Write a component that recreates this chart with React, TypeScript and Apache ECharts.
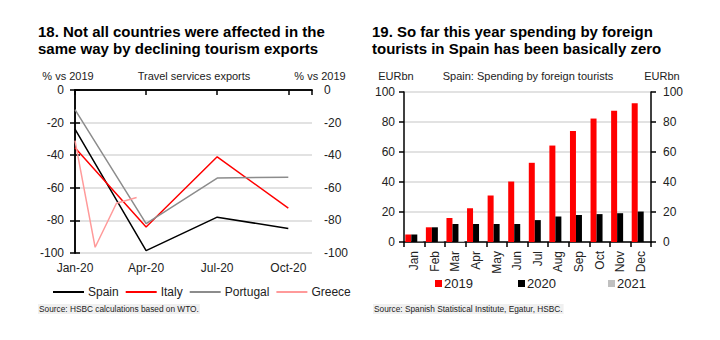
import React, { useEffect, useRef } from "react";
import * as echarts from "echarts";

// ---- Left chart data (month index from Jan-20) ----
const leftTickLabels = ["Jan-20", "Apr-20", "Jul-20", "Oct-20"];
const quarterMonths = [0, 3, 6, 9];
const spain = [-24, -98.5, -78, -85];
const italy = [-35.5, -84, -41, -72.5];
const portugal = [-12, -82, -54, -53.5];
const greeceMonths = [0, 0.85, 1.75, 2.6];
const greece = [-31, -96.5, -69.5, -66];

// ---- Right chart data ----
const months = ["Jan", "Feb", "Mar", "Apr", "May", "Jun", "Jul", "Aug", "Sep", "Oct", "Nov", "Dec"];
const spend2019 = [5, 9.8, 16, 22.5, 31, 40.3, 52.8, 64.3, 74, 82.3, 87.5, 92.5];
const spend2020 = [5, 9.8, 12, 12, 12, 12, 14.6, 17, 18, 18.6, 19.2, 20.3];
const spend2021 = [0.3, 0.4, 0.7, null, null, null, null, null, null, null, null, null];

const NARROW = "'Liberation Sans Narrow', 'Arial Narrow', 'Liberation Sans', Arial, sans-serif";
const SANS = "'Liberation Sans', Arial, sans-serif";
const LABEL_COLOR = "#222";
const GRID_COLOR = "#d9d9d9";

const pairs = (xs: number[], ys: (number | null)[]) => xs.map((x, i) => [x, ys[i]]);

export default function App() {
  const ref = useRef<HTMLDivElement>(null);
  useEffect(() => {
    if (!ref.current) return;
    const chart = echarts.init(ref.current, null, { renderer: "svg" });
    const axisLine = { show: true, lineStyle: { color: "#000", width: 1.5 } };
    const tick = { show: true, inside: false, length: 5, lineStyle: { color: "#000", width: 1.5 } };
    const yLabel = { color: LABEL_COLOR, fontSize: 12, fontFamily: NARROW };

    const option: any = {
      animation: false,
      backgroundColor: "#fff",
      grid: [
        { left: 75, top: 90, width: 237, height: 163 },
        { left: 404, top: 92, width: 247, height: 150 },
      ],
      xAxis: [
        {
          type: "value", gridIndex: 0, min: 0, max: 10, interval: 3,
          axisLine, axisTick: tick, splitLine: { show: false },
          axisLabel: {
            margin: 9, color: LABEL_COLOR, fontSize: 12, fontFamily: NARROW,
            formatter: (v: number) => (v % 3 === 0 ? leftTickLabels[v / 3] ?? "" : ""),
          },
        },
        {
          type: "value", gridIndex: 0, min: 0, max: 10, position: "top",
          axisLine, axisTick: { show: false }, axisLabel: { show: false }, splitLine: { show: false },
        },
        {
          type: "category", gridIndex: 1, data: months,
          axisLine, axisTick: { ...tick, alignWithLabel: false },
          axisLabel: { rotate: 90, margin: 9, color: LABEL_COLOR, fontSize: 12, fontFamily: NARROW },
        },
      ],
      yAxis: [
        {
          type: "value", gridIndex: 0, min: -100, max: 0, interval: 20,
          axisLine, axisTick: tick, axisLabel: { ...yLabel, margin: 11 },
          splitLine: { show: true, lineStyle: { color: GRID_COLOR, width: 1.5 } },
        },
        {
          type: "value", gridIndex: 0, min: -100, max: 0, interval: 20, position: "right",
          axisLine, axisTick: tick, axisLabel: { ...yLabel, margin: 12 }, splitLine: { show: false },
        },
        {
          type: "value", gridIndex: 1, min: 0, max: 100, interval: 20,
          axisLine, axisTick: tick, axisLabel: { ...yLabel, margin: 9 },
          splitLine: { show: true, lineStyle: { color: GRID_COLOR, width: 1.5 } },
        },
        {
          type: "value", gridIndex: 1, min: 0, max: 100, interval: 20, position: "right",
          axisLine, axisTick: tick, axisLabel: { ...yLabel, margin: 12 }, splitLine: { show: false },
        },
      ],
      legend: [
        {
          data: ["Spain", "Italy", "Portugal", "Greece"],
          left: 48, top: 281, icon: "rect", itemWidth: 31, itemHeight: 2, itemGap: 7,
          textStyle: { fontSize: 12, fontFamily: NARROW, color: LABEL_COLOR, padding: [0, 0, 0, -1] },
        },
        {
          data: ["2019"], left: 430, top: 272, icon: "rect", itemWidth: 7, itemHeight: 7,
          textStyle: { fontSize: 13, fontFamily: NARROW, color: LABEL_COLOR, padding: [0, 0, 0, -3] },
        },
        {
          data: ["2020"], left: 513, top: 272, icon: "rect", itemWidth: 7, itemHeight: 7,
          textStyle: { fontSize: 13, fontFamily: NARROW, color: LABEL_COLOR, padding: [0, 0, 0, -3] },
        },
        {
          data: ["2021"], left: 603, top: 272, icon: "rect", itemWidth: 7, itemHeight: 7,
          textStyle: { fontSize: 13, fontFamily: NARROW, color: LABEL_COLOR, padding: [0, 0, 0, -3] },
        },
      ],
      series: [
        { name: "Spain", type: "line", xAxisIndex: 0, yAxisIndex: 0, data: pairs(quarterMonths, spain), symbol: "none", lineStyle: { color: "#000", width: 1.5 }, itemStyle: { color: "#000" } },
        { name: "Italy", type: "line", xAxisIndex: 0, yAxisIndex: 0, data: pairs(quarterMonths, italy), symbol: "none", lineStyle: { color: "#ff0000", width: 1.5 }, itemStyle: { color: "#ff0000" } },
        { name: "Portugal", type: "line", xAxisIndex: 0, yAxisIndex: 0, data: pairs(quarterMonths, portugal), symbol: "none", lineStyle: { color: "#8c8c8c", width: 1.5 }, itemStyle: { color: "#8c8c8c" } },
        { name: "Greece", type: "line", xAxisIndex: 0, yAxisIndex: 0, data: pairs(greeceMonths, greece), symbol: "none", lineStyle: { color: "#ff9a9a", width: 1.5 }, itemStyle: { color: "#ff9a9a" } },
        { name: "2019", type: "bar", xAxisIndex: 2, yAxisIndex: 2, data: spend2019, barWidth: 6, barGap: "0%", itemStyle: { color: "#ff0000" } },
        { name: "2020", type: "bar", xAxisIndex: 2, yAxisIndex: 2, data: spend2020, barWidth: 6, barGap: "0%", itemStyle: { color: "#000" } },
        { name: "2021", type: "bar", xAxisIndex: 2, yAxisIndex: 2, data: spend2021, barWidth: 6, barGap: "0%", itemStyle: { color: "#c0c0c0" } },
      ],
      graphic: [
        {
          type: "text", left: 38, top: 23,
          style: { text: "18. Not all countries were affected in the\nsame way by declining tourism exports", font: `bold 15px ${SANS}`, fill: "#000", lineHeight: 17 },
        },
        {
          type: "text", left: 372, top: 23,
          style: { text: "19. So far this year spending by foreign\ntourists in Spain has been basically zero", font: `bold 15px ${SANS}`, fill: "#000", lineHeight: 17 },
        },
        { type: "text", x: 68, y: 76, style: { text: "% vs 2019", font: `11px ${NARROW}`, fill: LABEL_COLOR, align: "center", verticalAlign: "middle" } },
        { type: "text", x: 194, y: 76, style: { text: "Travel services exports", font: `11px ${NARROW}`, fill: LABEL_COLOR, align: "center", verticalAlign: "middle" } },
        { type: "text", x: 320, y: 76, style: { text: "% vs 2019", font: `11px ${NARROW}`, fill: LABEL_COLOR, align: "center", verticalAlign: "middle" } },
        { type: "text", x: 396, y: 76, style: { text: "EURbn", font: `11px ${NARROW}`, fill: LABEL_COLOR, align: "center", verticalAlign: "middle" } },
        { type: "text", x: 528, y: 76, style: { text: "Spain: Spending by foreign tourists", font: `11px ${NARROW}`, fill: LABEL_COLOR, align: "center", verticalAlign: "middle" } },
        { type: "text", x: 662, y: 76, style: { text: "EURbn", font: `11px ${NARROW}`, fill: LABEL_COLOR, align: "center", verticalAlign: "middle" } },
        { type: "text", x: 38, y: 309, style: { text: "Source: HSBC calculations based on WTO.", font: `8.3px ${SANS}`, fill: "#222", verticalAlign: "middle", backgroundColor: "#f0f0f0", padding: [1, 1] } },
        { type: "text", x: 373, y: 309, style: { text: "Source: Spanish Statistical Institute, Egatur, HSBC.", font: `8.3px ${SANS}`, fill: "#222", verticalAlign: "middle", backgroundColor: "#f0f0f0", padding: [1, 1] } },
      ],
    };
    chart.setOption(option);
    return () => chart.dispose();
  }, []);
  return <div ref={ref} style={{ position: "absolute", left: 0, top: 0, width: 720, height: 340, background: "#fff" }} />;
}
